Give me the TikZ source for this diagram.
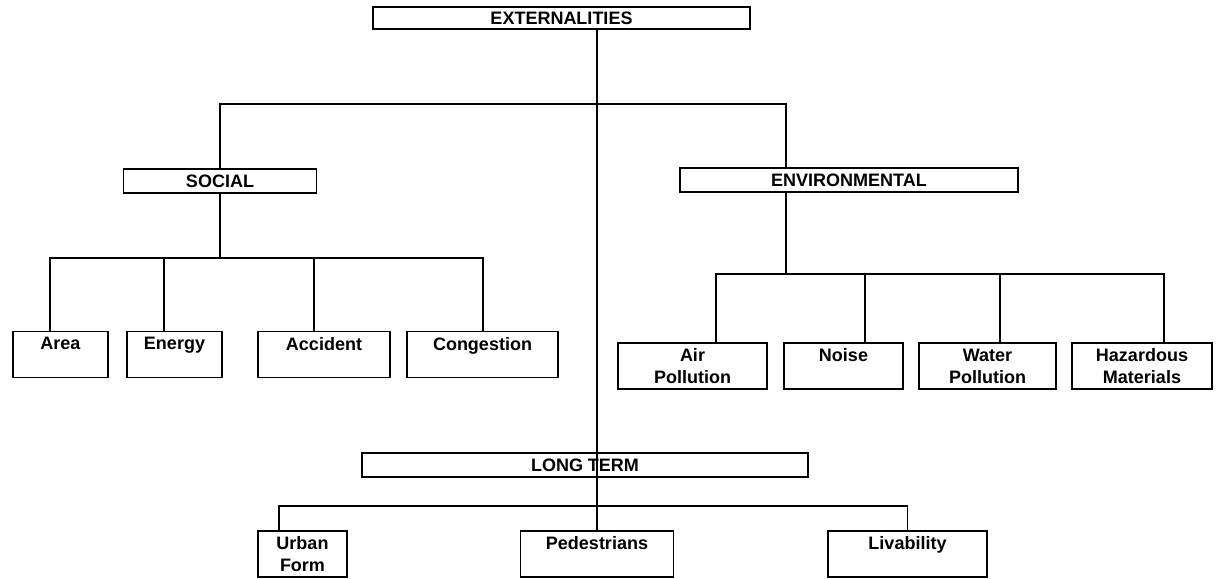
\documentclass[tikz,border=0pt]{standalone}
\usepackage{fontspec}
\setmainfont{Liberation Sans}
\usetikzlibrary{calc}
\tikzset{
  head/.style={draw,line width=0.9pt,fill=white,font=\bfseries\fontsize{9}{11}\selectfont,minimum height=12pt,inner sep=0pt},
  leaf/.style={draw,line width=0.9pt,fill=white,font=\bfseries\fontsize{9}{11}\selectfont,minimum height=23pt,align=center,inner sep=1.5pt},
  link/.style={line width=0.9pt}
}
\begin{document}
\begin{tikzpicture}[x=0.5pt,y=-0.5pt]
\path[use as bounding box] (0,0) rectangle (1223,579);
% headings
\node[head,minimum width=188.5pt,minimum height=11pt] (ext) at (561.5,18) {EXTERNALITIES};
\node[head,minimum width=96.5pt] (social) at (220,181) {SOCIAL};
\node[head,minimum width=169pt] (env) at (849,180) {ENVIRONMENTAL};
\node[head,minimum width=223pt] (lt) at (585,465) {LONG TERM};
% social
\node[leaf,minimum width=47.5pt] (area) at (60.5,354.5) {Area\\~};
\node[leaf,minimum width=47.5pt] (energy) at (174.5,354.5) {Energy\\~};
\node[leaf,minimum width=66pt] (accident) at (324,354.5) {Accident\\~};
\node[leaf,minimum width=75.5pt] (congestion) at (482.5,354.5) {Congestion\\~};
% environmental
\node[leaf,minimum width=74.5pt] (air) at (692.5,366) {Air\\Pollution};
\node[leaf,minimum width=59.5pt] (noise) at (843.5,366) {Noise\\~};
\node[leaf,minimum width=68.5pt] (water) at (987.5,366) {Water\\Pollution};
\node[leaf,minimum width=70pt] (hazard) at (1142,366) {Hazardous\\Materials};
% long term
\node[leaf,minimum width=44.5pt] (urban) at (302.5,554) {Urban\\Form};
\node[leaf,minimum width=76.5pt] (ped) at (597,554) {Pedestrians\\~};
\node[leaf,minimum width=79.5pt] (liv) at (907.5,554) {Livability\\~};

% junctions
\coordinate (trunk) at ($(ext.south)+(35.5,74)$);
\coordinate (estem) at ($(env.north)+(-63,0)$);
\coordinate (sbus) at ($(social.south)+(0,64)$);
\coordinate (ebus) at ($(env.south)+(-63,81)$);
\coordinate (lbus) at ($(lt.south -| trunk)+(0,28)$);

% links
\draw[link] (ext.south -| trunk) -- (ped.north);
\draw[link] (social.north) |- (trunk) -| (estem);
\draw[link] (social.south) -- (sbus);
\foreach \n/\d in {area/-10.5,energy/-10.5,accident/-10,congestion/0.5}
  \draw[link] ($(\n.north)+(\d,0)$) |- (sbus);
\draw[link] (env.south -| ebus) -- (ebus);
\foreach \n/\d in {air/23.5,noise/21.5,water/12.5,hazard/22}
  \draw[link] ($(\n.north)+(\d,0)$) |- (ebus);
\foreach \n/\d in {urban/-23.5,liv/0}
  \draw[link] ($(\n.north)+(\d,0)$) |- (lbus);
\end{tikzpicture}
\end{document}
